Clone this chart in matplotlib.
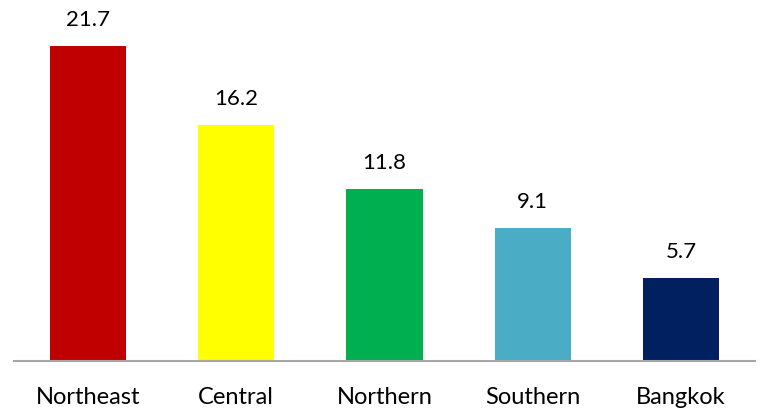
import matplotlib
matplotlib.use("Agg")
import matplotlib.pyplot as plt

regions = ["Northeast", "Central", "Northern", "Southern", "Bangkok"]
values = [21.7, 16.2, 11.8, 9.1, 5.7]
colors = ["#C00000", "#FFFF00", "#00B050", "#4BACC6", "#002060"]

plt.rcParams['font.family'] = ['Lato', 'DejaVu Sans']

fig = plt.figure(figsize=(7.6, 4.09), dpi=100)
ax = fig.add_axes([14/760, 48.5/409, 741/760, 360.5/409])

x = list(range(len(regions)))
bars = ax.bar(x, values, width=0.515, color=colors, zorder=2)
ax.set_xlim(-0.5, len(regions) - 0.5)
ax.set_ylim(0, 24.85)

for xi, v in zip(x, values):
    ax.annotate(f"{v}", xy=(xi, v), xytext=(0, 14.4), textcoords="offset points",
                ha="center", va="baseline", fontsize=16, color="#000000")

ax.set_xticks(x)
ax.set_xticklabels(regions, fontsize=17, va="baseline")
ax.tick_params(axis="x", length=0, pad=31.3)
ax.set_yticks([])
for s in ["top", "right", "left"]:
    ax.spines[s].set_visible(False)
ax.spines["bottom"].set_color("#A6A6A6")
ax.spines["bottom"].set_linewidth(1.5)
ax.patch.set_visible(False)

fig.savefig("out.png", dpi=100)
